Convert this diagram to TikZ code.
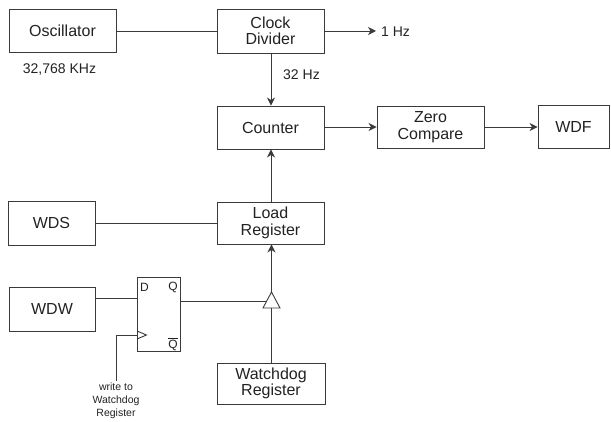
\documentclass[tikz,border=0pt]{standalone}
\usepackage{fontspec}
\setmainfont{Liberation Sans}
\usetikzlibrary{arrows.meta}
\definecolor{ln}{HTML}{3A3A3A}
\definecolor{tx}{HTML}{222222}
\begin{document}
\begin{tikzpicture}[x=1pt,y=-1pt,
  box/.style={draw=ln, line width=0.9pt, inner sep=0pt, align=center, text=tx,
    font=\fontsize{16}{16.5}\selectfont},
  lbl/.style={text=tx, inner sep=0pt, font=\fontsize{14}{16}\selectfont},
  small/.style={text=tx, inner sep=0pt, align=center, font=\fontsize{10.5}{13}\selectfont},
  ffl/.style={text=tx, inner sep=0pt, font=\fontsize{12}{14}\selectfont},
  wire/.style={draw=ln, line width=0.9pt},
  arr/.style={wire, -{Stealth[length=8pt,width=8pt,inset=2.5pt]}}]
\useasboundingbox (0,0) rectangle (611,422);
% boxes
\node[box, minimum width=107pt, minimum height=43pt] (osc) at (62.5,30.5) {Oscillator};
\node[box, minimum width=107pt, minimum height=44pt] (clk) at (270.5,31) {Clock\\Divider};
\node[box, minimum width=107pt, minimum height=43pt] (cnt) at (270.5,127.5) {Counter};
\node[box, minimum width=107pt, minimum height=42pt] (zero) at (430.5,127) {Zero\\Compare};
\node[box, minimum width=71pt, minimum height=43pt] (wdf) at (573.5,126.5) {WDF};
\node[box, minimum width=107pt, minimum height=42pt] (load) at (270.5,223) {Load\\Register};
\node[box, minimum width=87pt, minimum height=44pt] (wds) at (51.5,223) {WDS};
\node[box, minimum width=86pt, minimum height=44pt] (wdw) at (52,309) {WDW};
\node[box, minimum width=108pt, minimum height=41pt] (wreg) at (271,383.5) {Watchdog\\Register};
\node[box, minimum width=43pt, minimum height=74pt] (ff) at (158.5,314) {};
% flip-flop labels
\node[ffl, anchor=west] (ffD) at (140,287) {D};
\node[ffl] (ffQ) at (173,287) {Q};
\node[ffl] (ffQb) at (173,344) {$\overline{\mbox{Q}}$};
% labels
\node[lbl] (f1) at (59.5,70) {32,768 KHz};
\node[lbl, anchor=west] (hz1) at (381,32) {1 Hz};
\node[lbl, anchor=west] (hz32) at (283,75) {32 Hz};
\node[small, anchor=north] (wrt) at (116,383) {write to\\Watchdog\\Register};
% coordinates
\coordinate (hzend) at (376,31);
\coordinate (ffd) at (137,298);
\coordinate (ffclk) at (137,335);
\coordinate (wr) at (116,381);
\coordinate (bufapex) at (271.5,292);
\coordinate (bufbase) at (271.5,308);
\coordinate (bufin) at (267,301);
% connectors
\draw[wire] (osc.east |- 0,31) -- (clk.west |- 0,31);
\draw[arr] (clk.east |- hzend) -- (hzend);
\draw[arr] (clk.south -| 271,0) -- (cnt.north -| 271,0);
\draw[arr] (cnt.east |- 0,127) -- (zero.west |- 0,127);
\draw[arr] (zero.east |- 0,127) -- (wdf.west |- 0,127);
\draw[arr] (load.north -| 271,0) -- (cnt.south -| 271,0);
\draw[wire] (wds.east) -- (load.west);
\draw[wire] (wdw.east |- ffd) -- (ffd);
\draw[wire] (ff.east |- bufin) -- (bufin);
\draw[wire, line join=miter] (263,308) -- (bufapex) -- (280,308) -- cycle;
\draw[arr] (bufapex) -- (bufapex |- load.south);
\draw[wire] (wreg.north -| bufbase) -- (bufbase);
\draw[wire] (wr) |- (ffclk);
\draw[wire, line join=miter] (137,331) -- (146.5,335) -- (137,339);
\end{tikzpicture}
\end{document}
